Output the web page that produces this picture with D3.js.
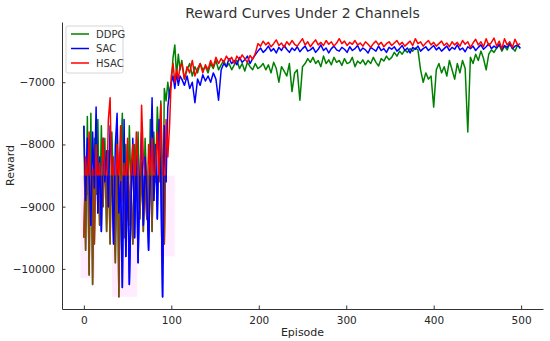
<!DOCTYPE html>
<html lang="en">
<head>
    <meta charset="UTF-8">
    <script src="https://d3js.org/d3.v7.min.js"></script>
    <title>Reward Curves Under 2 Channels</title>
    <style>
        html, body {
            margin: 0;
            padding: 0;
            background: white;
        }
        text {
            font-family: "DejaVu Sans", sans-serif;
            fill: #262626;
        }
        .tick text {
            font-size: 10.5px;
        }
        .legend text {
            font-size: 10px;
            fill: #333;
        }
    </style>
</head>
<body>
    <script>
        // episodes: every 2 in the noisy start, every 3 afterwards
        const earlyEpisodes = d3.range(0, 111, 2);
        const lateEpisodes = d3.range(112, 500, 3);

        const ddpgEarly = [
          -7700, -9700, -7550, -10100, -7500, -10250, -7900, -8800, -7600, -9300,
          -7700, -9000, -7900, -9400, -8100, -9600, -7800, -8700, -9900, -7600,
          -10450, -8200, -7500, -9500, -8000, -9200, -7700, -8800, -9600, -8000,
          -8900, -7800, -9200, -8300, -9400, -7900, -8700, -9100, -7600, -9400,
          -7800, -8600, -7400, -8100, -7300, -9900, -7100, -7300, -7000, -7250,
          -7000, -6600, -6400, -6900, -6550, -6800
        ];
        const sacEarly = [
          -7700, -8900, -7900, -8500, -9300, -7800, -8700, -7400, -9100, -8200,
          -9400, -7900, -8600, -8100, -9000, -7700, -8400, -9600, -8000, -7500,
          -9100, -8600, -10300, -7600, -9800, -8300, -10250, -8900, -7900, -9500,
          -8100, -9900, -8500, -7800, -9300, -8200, -8800, -9700, -8400, -7250,
          -8900, -8000, -9200, -7600, -8500, -10450, -7700, -8600, -7400, -7150,
          -7000, -6900, -7100, -6850, -7050, -6900
        ];
        const hsacEarly = [
          -9500, -8200, -8800, -7800, -9200, -8400, -9600, -8000, -8700, -8300,
          -9000, -7900, -8500, -8900, -7600, -7250, -8800, -8200, -9400, -8000,
          -8600, -7700, -8900, -8300, -8700, -7900, -9300, -8400, -8000, -8800,
          -7800, -8500, -9100, -7370, -8200, -8600, -9200, -8000, -8500, -7900,
          -8700, -8300, -7800, -8600, -7350, -8400, -9600, -7600, -8200, -7700,
          -6900, -6700, -7000, -6800, -6950, -6750
        ];

        const ddpgLate = [
          -6650, -6950, -6800, -6700, -6900, -6750, -6850, -6700, -6800, -6750,
          -6850, -6700, -6780, -6650, -6800, -6720, -6650, -6750, -6700, -6800,
          -6720, -6650, -6780, -6700, -6820, -6680, -6750, -6800, -6700, -6780,
          -6750, -6700, -6800, -6720, -6850, -6680, -6780, -7000, -6750, -6820,
          -6900, -6700, -7150, -6850, -6800, -7290, -6750, -6700, -6620, -6680,
          -6600, -6700, -6650, -6750, -6580, -6700, -6640, -6720, -6600, -6680,
          -6650, -6730, -6620, -6700, -6680, -6600, -6750, -6660, -6700, -6640,
          -6720, -6650, -6700, -6600, -6680, -6740, -6620, -6660, -6580, -6640,
          -6600, -6520, -6580, -6500, -6550, -6480, -6520, -6460, -6500, -6450,
          -6480, -6800, -7000, -6850, -6950, -6900, -7400, -6800, -6700, -6850,
          -6750, -6900, -6650, -6800, -6950, -6700, -6850, -6650, -6780, -7800,
          -6600, -6700, -6550, -6650, -6500, -6620, -6800, -6550, -6480, -6520,
          -6450, -6400, -6500, -6420, -6480, -6380, -6450, -6500, -6400, -6460
        ];
        const sacLate = [
          -6950, -7050, -6900, -7100, -7000, -7330, -6950, -7050, -6880, -6980,
          -6900, -7000, -6850, -6950, -7290, -6800, -6700, -6750, -6620, -6700,
          -6650, -6720, -6600, -6680, -6640, -6580, -6700, -6620, -6560, -6500,
          -6450, -6520, -6480, -6420, -6500, -6460, -6530, -6440, -6490, -6410,
          -6470, -6520, -6450, -6490, -6430, -6510, -6460, -6420, -6500, -6480,
          -6440, -6520, -6470, -6400, -6490, -6450, -6530, -6460, -6420, -6480,
          -6500, -6440, -6470, -6520, -6430, -6490, -6460, -6410, -6500, -6450,
          -6480, -6530, -6440, -6470, -6500, -6420, -6490, -6460, -6520, -6440,
          -6470, -6430, -6500, -6460, -6410, -6490, -6450, -6530, -6440, -6470,
          -6420, -6500, -6460, -6430, -6490, -6450, -6410, -6480, -6440, -6500,
          -6460, -6420, -6490, -6440, -6470, -6400, -6480, -6450, -6510, -6430,
          -6460, -6420, -6490, -6440, -6400, -6470, -6430, -6380, -6460, -6420,
          -6450, -6390, -6470, -6410, -6440, -6380, -6460, -6420, -6400, -6450
        ];
        const hsacLate = [
          -6700, -6950, -6750, -6850, -6650, -6900, -6780, -6700, -6850, -6720,
          -6800, -6650, -6750, -6600, -6700, -6620, -6680, -6580, -6650, -6600,
          -6700, -6580, -6640, -6560, -6620, -6680, -6570, -6630, -6540, -6380,
          -6420, -6340, -6400, -6360, -6430, -6380, -6320, -6410, -6370, -6440,
          -6350, -6400, -6330, -6390, -6420, -6360, -6300, -6400, -6350, -6430,
          -6370, -6320, -6400, -6360, -6410, -6330, -6390, -6350, -6420, -6370,
          -6300, -6380, -6340, -6410, -6360, -6390, -6330, -6400, -6370, -6420,
          -6350, -6390, -6440, -6380, -6340, -6400, -6360, -6430, -6380, -6350,
          -6410, -6370, -6330, -6400, -6360, -6420, -6380, -6340, -6410, -6300,
          -6380, -6350, -6420, -6370, -6330, -6400, -6360, -6420, -6380, -6340,
          -6410, -6370, -6430, -6350, -6400, -6360, -6420, -6330, -6390, -6350,
          -6440, -6370, -6310, -6400, -6350, -6430, -6300, -6410, -6360, -6290,
          -6420, -6340, -6460, -6300, -6400, -6350, -6440, -6310, -6400, -6380
        ];

        // light shaded spread of HSAC in the first episodes: [from, to, low]
        const hsacBand = [[-4, 13, -10150], [32, 61, -10450], [87, 104, -9800]];
        const bandTop = -8500;

        const xTicks = [0, 100, 200, 300, 400, 500];
        const yTicks = [-10000, -9000, -8000, -7000];

        const seriesNames = ["DDPG", "SAC", "HSAC"];
        const seriesColors = ["#008000", "#0000ff", "#ff0000"];

        const width = 550;
        const height = 341;
        const margin = { top: 22, right: 7, bottom: 32, left: 62 };

        const svg = d3.select('body')
          .append('svg')
          .attr('width', width)
          .attr('height', height);

        const x = d3.scaleLinear()
          .domain([-25, 525])
          .range([margin.left, width - margin.right]);

        const y = d3.scaleLinear()
          .domain([-10645, -6032])
          .range([height - margin.bottom, margin.top]);

        const allEpisodes = earlyEpisodes.concat(lateEpisodes);
        const toPoints = (early, late) =>
          early.concat(late).map((v, i) => ({ ep: allEpisodes[i], v: v }));

        const series = [
          toPoints(ddpgEarly, ddpgLate),
          toPoints(sacEarly, sacLate),
          toPoints(hsacEarly, hsacLate)
        ];

        const line = d3.line()
          .x(d => x(d.ep))
          .y(d => y(d.v));

        // pink spread
        svg.selectAll('.band')
          .data(hsacBand)
          .join('rect')
          .attr('class', 'band')
          .attr('x', d => x(d[0]))
          .attr('width', d => x(d[1]) - x(d[0]))
          .attr('y', y(bandTop))
          .attr('height', d => y(d[2]) - y(bandTop))
          .attr('fill', '#ff00ff')
          .attr('opacity', 0.07);

        series.forEach((s, i) => {
          svg.append('path')
            .datum(s)
            .attr('d', line)
            .attr('fill', 'none')
            .attr('stroke', seriesColors[i])
            .attr('stroke-width', 1.5)
            .attr('stroke-linejoin', 'round');
        });

        // below the band top the green / red overlap reads brown
        svg.append('clipPath')
          .attr('id', 'lowclip')
          .append('rect')
          .attr('x', x(-5))
          .attr('y', y(bandTop))
          .attr('width', x(106) - x(-5))
          .attr('height', y(-10645) - y(bandTop));

        const low = svg.append('g').attr('clip-path', 'url(#lowclip)');
        [0, 2].forEach(i => {
          low.append('path')
            .datum(series[i])
            .attr('d', line)
            .attr('fill', 'none')
            .attr('stroke', '#8a4510')
            .attr('stroke-width', 1.5)
            .attr('stroke-linejoin', 'round');
        });
        low.append('path')
          .datum(series[1])
          .attr('d', line)
          .attr('fill', 'none')
          .attr('stroke', seriesColors[1])
          .attr('stroke-width', 1.5)
          .attr('stroke-linejoin', 'round');

        // axes, matplotlib style: ticks inward, only left and bottom spines
        const xAxis = svg.append('g')
          .attr('transform', `translate(0,${height - margin.bottom})`)
          .call(d3.axisBottom(x).tickValues(xTicks).tickSizeInner(-3.5).tickSizeOuter(0).tickPadding(8));

        const yAxis = svg.append('g')
          .attr('transform', `translate(${margin.left},0)`)
          .call(d3.axisLeft(y).tickValues(yTicks).tickSizeInner(-3.5).tickSizeOuter(0).tickPadding(7)
            .tickFormat(d => d3.format(",")(d).replace(",", "").replace("-", "\u2212")));

        [xAxis, yAxis].forEach(a => {
          a.select('.domain').attr('stroke', '#333').attr('stroke-width', 1);
          a.selectAll('.tick line').attr('stroke', '#333');
          a.selectAll('.tick text').attr('fill', '#262626');
        });

        svg.append('text')
          .text('Reward Curves Under 2 Channels')
          .attr('x', (margin.left + width - margin.right) / 2)
          .attr('y', 18)
          .attr('text-anchor', 'middle')
          .style('font-size', '14px')
          .style('fill', '#333');

        svg.append('text')
          .text('Episode')
          .attr('x', (margin.left + width - margin.right) / 2)
          .attr('y', 336)
          .attr('text-anchor', 'middle')
          .style('font-size', '11px');

        svg.append('text')
          .text('Reward')
          .attr('transform', `translate(14,${(margin.top + height - margin.bottom) / 2}) rotate(-90)`)
          .attr('text-anchor', 'middle')
          .style('font-size', '11px');

        // legend
        const legend = svg.append('g')
          .attr('class', 'legend')
          .attr('transform', `translate(${margin.left + 4},${margin.top + 4})`);

        legend.append('rect')
          .attr('width', 57)
          .attr('height', 47)
          .attr('rx', 2)
          .attr('fill', 'white')
          .attr('fill-opacity', 0.8)
          .attr('stroke', '#ccc')
          .attr('stroke-width', 0.8);

        seriesNames.forEach((name, i) => {
          legend.append('line')
            .attr('x1', 5)
            .attr('x2', 23)
            .attr('y1', 8 + i * 14.5)
            .attr('y2', 8 + i * 14.5)
            .attr('stroke', seriesColors[i])
            .attr('stroke-width', 1.5);

          legend.append('text')
            .attr('x', 30)
            .attr('y', 11.5 + i * 14.5)
            .text(name);
        });
    </script>
</body>
</html>
